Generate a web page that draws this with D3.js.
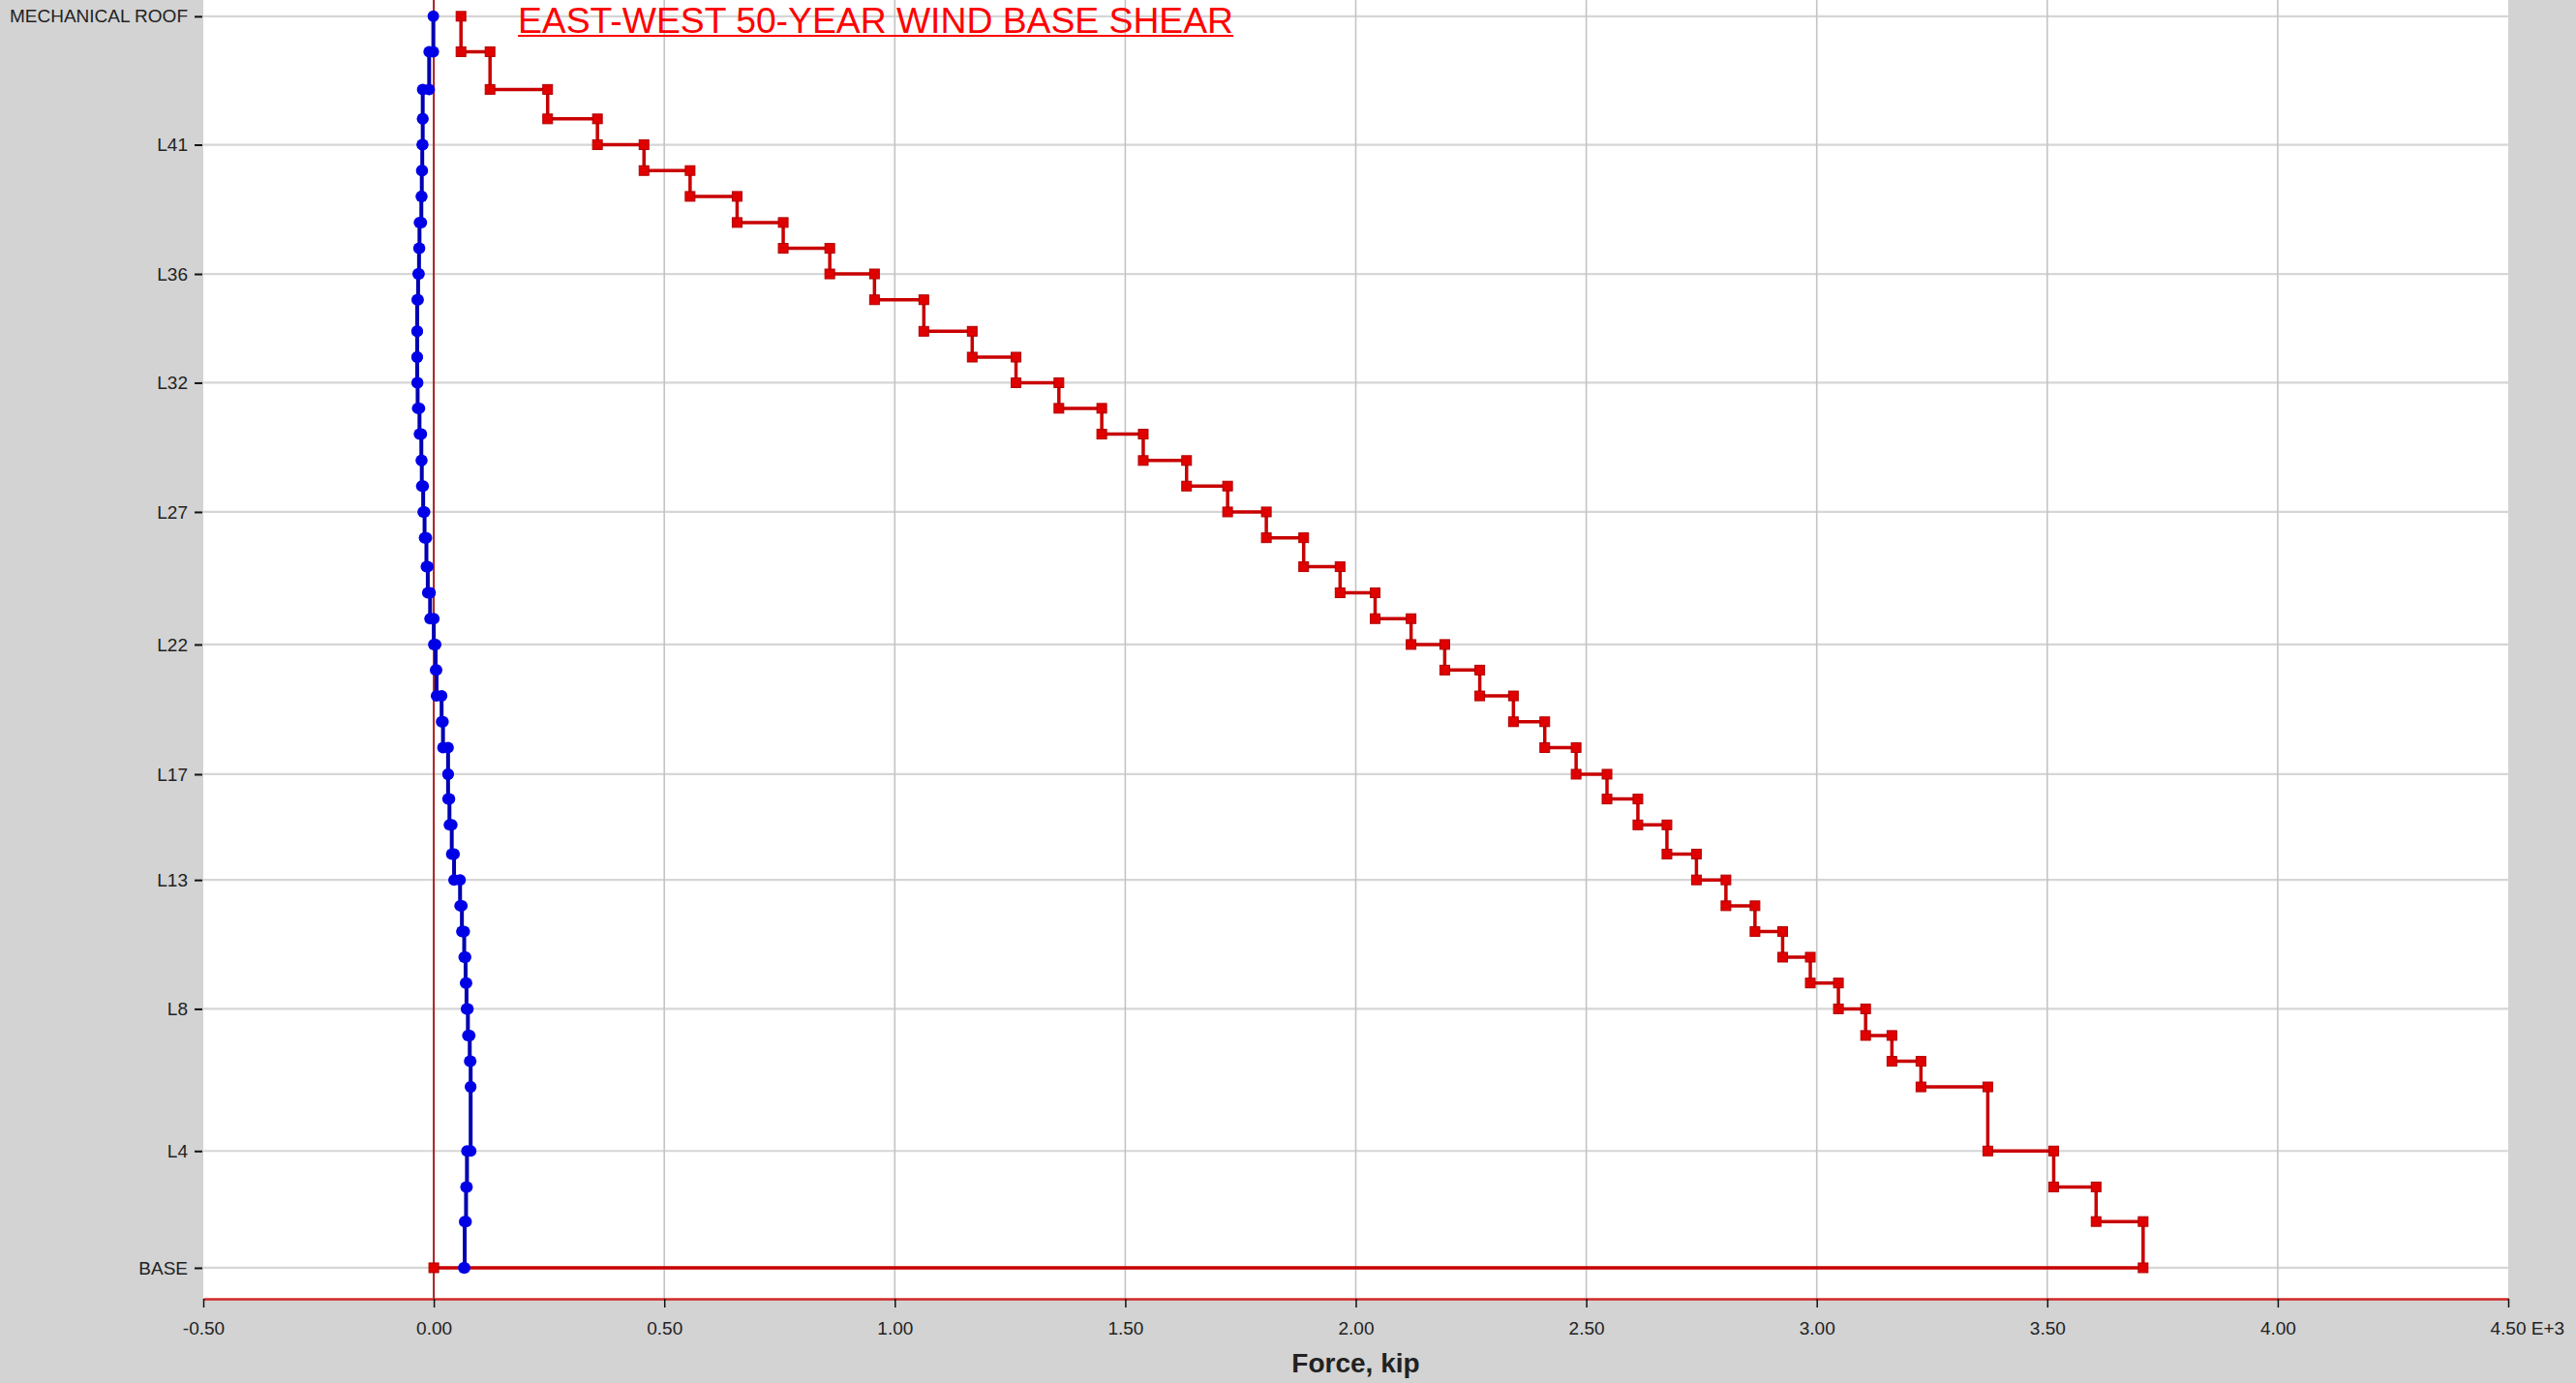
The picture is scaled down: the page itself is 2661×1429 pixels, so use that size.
<!DOCTYPE html>
<html>
<head>
<meta charset="utf-8">
<script src="https://cdn.jsdelivr.net/npm/d3@7"></script>
<style>
  html, body { margin: 0; padding: 0; background: #d3d3d3; overflow: hidden; }
  svg { display: block; font-family: "Liberation Sans", Arial, sans-serif; }
</style>
</head>
<body>
<svg id="chart" width="2661" height="1429"></svg>
<script>
// Floor levels, top to bottom
const levelNames = [
  "MECHANICAL ROOF", "L44", "L43", "L42", "L41", "L40", "L39", "L38", "L37", "L36",
  "L35", "L34", "L33", "L32", "L31", "L30", "L29", "L28", "L27", "L26",
  "L25", "L24", "L23", "L22", "L21", "L20", "L19", "L18", "L17", "L16",
  "L15", "L14", "L13", "L12", "L11", "L10", "L9", "L8", "L7", "L6",
  "L5", "L4", "L3", "L2", "BASE"
];
// Level elevations above base, ft
const elevations = [
  484.3, 470.6, 456.0, 444.6, 434.6, 424.6, 414.6, 404.5, 394.5, 384.6,
  374.6, 362.4, 352.4, 342.5, 332.6, 322.6, 312.4, 302.5, 292.5, 282.5,
  271.3, 261.2, 251.2, 241.2, 231.3, 221.3, 211.3, 201.3, 191.0, 181.4,
  171.4, 160.1, 150.1, 140.1, 130.1, 120.2, 110.2, 100.2, 89.9, 79.9,
  70.0, 45.2, 31.3, 17.9, 0
];
// Story shear below each level, kip (east-west direction)
const shearEW = [
  59, 122, 247, 355, 456, 556, 658, 758, 859, 956,
  1063, 1168, 1263, 1356, 1449, 1539, 1633, 1722, 1806, 1887,
  1966, 2042, 2120, 2193, 2269, 2342, 2410, 2478, 2545, 2612,
  2675, 2739, 2803, 2866, 2926, 2986, 3047, 3106, 3163, 3226,
  3371, 3514, 3606, 3708, 0
];
// Story shear below each level, kip (orthogonal component)
const shearNS = [
  -1, -10, -24, -24, -25, -26, -27, -31, -32, -34,
  -36, -36, -36, -35, -31, -27, -26, -23, -20, -16,
  -13, -8, 0, 4, 6, 17, 20, 31, 31, 34,
  39, 44, 57, 61, 66, 69, 71, 74, 78, 80,
  80, 72, 70, 67, 65
];
// Labelled levels on the vertical axis
const levelTicks = ["MECHANICAL ROOF", "L41", "L36", "L32", "L27", "L22", "L17", "L13", "L8", "L4", "BASE"];
// Force axis ticks, kip
const forceTicks = [-500, 0, 500, 1000, 1500, 2000, 2500, 3000, 3500, 4000, 4500];

const chartTitle = "EAST-WEST 50-YEAR WIND BASE SHEAR";
const xTitle = "Force, kip";

const plot = { left: 210, right: 2591, top: 0, bottom: 1342 };

const svg = d3.select("#chart");

const x = d3.scaleLinear().domain([-500, 4500]).range([plot.left, plot.right]);
const y = d3.scaleLinear().domain([-12, 490.6]).range([plot.bottom, plot.top]);

const elevOf = name => elevations[levelNames.indexOf(name)];

// plot background
svg.append("rect")
  .attr("x", plot.left).attr("y", plot.top)
  .attr("width", plot.right - plot.left).attr("height", plot.bottom - plot.top)
  .attr("fill", "#ffffff");

// grid
const grid = svg.append("g");
grid.selectAll("line.h").data(levelTicks).join("line")
  .attr("class", "h")
  .attr("x1", plot.left).attr("x2", plot.right)
  .attr("y1", d => y(elevOf(d))).attr("y2", d => y(elevOf(d)))
  .attr("stroke", "#d6d6d6").attr("stroke-width", 2.2);
grid.selectAll("line.v").data(forceTicks.filter(d => d > -500 && d < 4500)).join("line")
  .attr("class", "v")
  .attr("y1", plot.top).attr("y2", plot.bottom)
  .attr("x1", d => x(d)).attr("x2", d => x(d))
  .attr("stroke", "#c4c4c4").attr("stroke-width", 1.6);

// zero force line
svg.append("line")
  .attr("x1", x(0)).attr("x2", x(0))
  .attr("y1", plot.top).attr("y2", plot.bottom)
  .attr("stroke", "#b02020").attr("stroke-width", 2);

// x axis
const xAxis = svg.append("g")
  .attr("transform", `translate(0,${plot.bottom})`)
  .call(d3.axisBottom(x)
    .tickValues(forceTicks)
    .tickFormat(d => (d / 1000).toFixed(2))
    .tickSize(9)
    .tickSizeOuter(0)
    .tickPadding(15));
xAxis.select(".domain").attr("stroke", "#d02828").attr("stroke-width", 2.5);
xAxis.selectAll(".tick line").attr("stroke", "#111").attr("stroke-width", 1.5);
xAxis.selectAll(".tick text")
  .attr("font-size", 19).attr("fill", "#222")
  .attr("font-family", "Liberation Sans, Arial, sans-serif");
// exponent marker on the last tick
xAxis.selectAll(".tick").filter(d => d === 4500).select("text")
  .text("4.50 E+3").attr("text-anchor", "start").attr("x", -19);

// y axis
const yAxis = svg.append("g")
  .attr("transform", `translate(${plot.left - 1},0)`)
  .call(d3.axisLeft(y)
    .tickValues(levelTicks.map(elevOf))
    .tickFormat(d => levelNames[elevations.indexOf(d)])
    .tickSize(8)
    .tickPadding(7));
yAxis.select(".domain").remove();
yAxis.selectAll(".tick line").attr("stroke", "#111").attr("stroke-width", 2);
yAxis.selectAll(".tick text")
  .attr("font-size", 19).attr("fill", "#222")
  .attr("font-family", "Liberation Sans, Arial, sans-serif");

// axis title
svg.append("text")
  .attr("x", (plot.left + plot.right) / 2).attr("y", 1418)
  .attr("text-anchor", "middle")
  .attr("font-size", 28).attr("font-weight", "bold").attr("fill", "#222")
  .text(xTitle);

// story-shear step profile: jump at each level, constant over each story
function stepPoints(values) {
  const pts = [[values[0], elevations[0]]];
  for (let i = 1; i < values.length; i++) {
    pts.push([values[i - 1], elevations[i]]);
    pts.push([values[i], elevations[i]]);
  }
  return pts;
}

const line = d3.line().x(d => x(d[0])).y(d => y(d[1]));

// east-west shear
const ewPts = stepPoints(shearEW);
svg.append("path").datum(ewPts)
  .attr("d", line).attr("fill", "none")
  .attr("stroke", "#c80000").attr("stroke-width", 3.5).attr("stroke-linejoin", "miter");
svg.append("g").selectAll("rect").data(ewPts).join("rect")
  .attr("x", d => x(d[0]) - 5).attr("y", d => y(d[1]) - 5)
  .attr("width", 10).attr("height", 10)
  .attr("fill", "#e00000").attr("stroke", "#b00000").attr("stroke-width", 1);

// orthogonal shear
const nsPts = stepPoints(shearNS);
svg.append("path").datum(nsPts)
  .attr("d", line).attr("fill", "none")
  .attr("stroke", "#0000b0").attr("stroke-width", 4);
svg.append("g").selectAll("circle").data(nsPts).join("circle")
  .attr("cx", d => x(d[0])).attr("cy", d => y(d[1]))
  .attr("r", 6).attr("fill", "#0000e6");

// title with underline
const title = svg.append("text")
  .attr("x", 535).attr("y", 34)
  .attr("font-size", 36).attr("fill", "#ff0000")
  .attr("textLength", 739).attr("lengthAdjust", "spacingAndGlyphs")
  .text(chartTitle);
svg.append("line")
  .attr("x1", 535).attr("x2", 535 + 739)
  .attr("y1", 37).attr("y2", 37)
  .attr("stroke", "#ff0000").attr("stroke-width", 2);
</script>
</body>
</html>
